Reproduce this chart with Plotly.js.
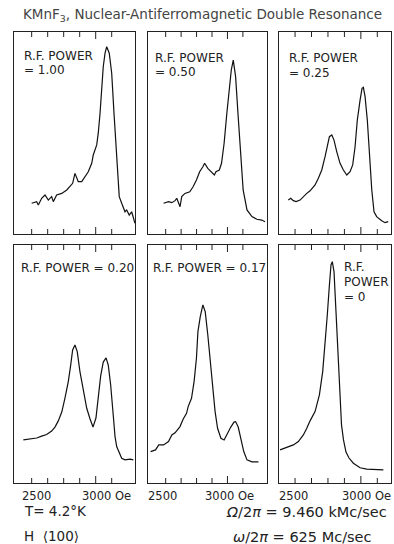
<!DOCTYPE html>
<html>
<head>
<meta charset="utf-8">
<script src="https://cdn.plot.ly/plotly-3.0.1.min.js"></script>
<style>html,body{margin:0;padding:0;background:#fff;}#chart{width:394px;height:544px;}</style>
</head>
<body>
<div id="chart"></div>
<script>
// Field in Oe, signal in arbitrary units (0-100 within each panel)
const rfPower = ["1.00", "0.50", "0.25", "0.20", "0.17", "0"];

const field1 = [2500,2539,2552,2578,2604,2630,2656,2669,2695,2735,2774,2799,2820,2838,2864,2891,2917,2942,2969,2981,3008,3020,3034,3047,3059,3073,3086,3106,3125,3143,3164,3184,3203,3229,3242,3262,3281,3294,3307];
const signal1 = [15.2,16.0,14.4,17.7,19.3,16.8,18.5,16.0,19.3,20.1,21.8,23.4,25.1,30.0,25.9,25.9,28.4,30.8,35.0,39.1,44.1,49.9,59.8,71.3,82.8,89.5,92.7,89.5,79.6,59.8,38.3,18.5,15.2,11.0,11.9,9.4,11.0,8.6,5.3];

const field2 = [2483,2523,2550,2576,2590,2603,2616,2630,2656,2695,2722,2749,2775,2801,2815,2841,2868,2894,2907,2934,2952,2973,2995,3013,3031,3047,3066,3085,3106,3127,3158,3198,3238,3277,3304];
const signal2 = [15.2,16.0,15.5,16.5,17.7,15.2,13.5,18.5,20.1,20.9,23.4,26.7,30.8,33.3,35.0,32.5,30.8,29.2,30.8,31.7,35.0,44.9,59.8,71.3,81.2,86.1,77.9,59.8,38.3,21.8,11.9,8.6,7.3,6.9,6.1];

const field3 = [2449,2467,2487,2508,2538,2563,2589,2614,2652,2677,2703,2728,2745,2761,2779,2796,2817,2842,2867,2893,2918,2938,2956,2973,2994,3009,3019,3032,3049,3064,3083,3100,3120,3158,3184,3208];
const signal3 = [16.8,17.7,16.5,16.0,16.8,18.5,20.1,21.4,24.3,27.6,31.7,38.3,44.1,48.2,49.0,46.5,40.7,35.0,31.7,29.2,30.8,34.2,43.2,56.4,66.3,72.1,72.6,68.0,56.4,40.0,21.8,11.0,8.6,6.6,5.6,6.1];

const field4 = [2435,2487,2539,2578,2617,2656,2682,2708,2735,2760,2786,2805,2820,2838,2856,2877,2903,2930,2956,2979,3002,3020,3039,3059,3081,3098,3117,3137,3151,3164,3184,3203,3229,3268,3294];
const signal4 = [18.1,18.5,18.9,19.7,20.4,21.8,23.5,26.1,29.8,35.7,42.6,49.6,55.9,58.0,55.2,46.8,38.4,31.4,26.9,23.5,27.3,34.9,45.0,50.8,52.6,49.6,41.2,28.6,19.5,15.3,12.5,10.4,9.7,10.0,9.7];

const field5 = [2378,2418,2444,2483,2523,2550,2576,2616,2642,2669,2682,2709,2730,2749,2761,2780,2801,2820,2841,2862,2880,2900,2920,2947,2973,2998,3027,3053,3066,3087,3106,3132,3158,3198,3251];
const signal5 = [13.2,13.9,16.0,16.0,17.4,20.2,21.1,23.7,26.9,29.3,32.1,35.6,42.6,52.4,63.6,69.9,74.8,72.0,62.2,49.6,38.4,30.0,23.0,18.8,18.1,20.9,23.5,25.6,25.8,23.5,19.5,13.2,9.7,8.9,8.9];

const field6 = [2386,2437,2487,2525,2563,2589,2614,2652,2685,2710,2728,2745,2761,2773,2783,2796,2811,2827,2842,2853,2868,2887,2910,2943,2994,3045,3171];
const signal6 = [13.9,14.8,16.0,17.4,20.2,23.0,26.1,30.0,37.0,46.8,58.0,70.6,83.2,91.6,93.0,88.8,72.0,52.5,35.7,24.4,18.1,13.0,10.5,8.3,6.4,5.8,5.5];

const fields = [field1, field2, field3, field4, field5, field6];
const signals = [signal1, signal2, signal3, signal4, signal5, signal6];

const tickFields = [2500, 2625, 2750, 2875, 3000, 3125];
const longTickField = 3000;
const tickLabelA = "2500";
const tickLabelB = "3000 Oe";

// ---- layout geometry (pixels) ----
const W = 394, H = 544;
const cols = [[14,135],[148,267],[279,391]];
const rows = [[32,234],[245,483]];
const ranges = [[2362,3307],[2357,3320],[2378,3229]];
const ink = "#222";
const FONT = "DejaVu Sans";
const TICK_PX = 5, LONG_TICK_PX = 7;

const data = [];
const layout = {
  width: W, height: H,
  margin: {l:0, r:0, t:0, b:0, pad:0},
  paper_bgcolor: "#fff", plot_bgcolor: "#fff",
  showlegend: false,
  annotations: []
};

for (let i = 0; i < 6; i++) {
  const r = Math.floor(i/3), c = i % 3;
  const n = i === 0 ? "" : String(i+1);
  data.push({
    type: "scatter", mode: "lines",
    x: fields[i], y: signals[i],
    xaxis: "x" + n, yaxis: "y" + n,
    line: {color: "#111", width: 1.2},
    hoverinfo: "skip"
  });
  // tick marks on the top and bottom frame edges, placed through the axis scale
  const hPx = rows[r][1] - rows[r][0];
  const tx = [], ty = [];
  tickFields.forEach(function (t) {
    const len = (t === longTickField ? LONG_TICK_PX : TICK_PX) / hPx * 100;
    tx.push(t, t, null, t, t, null);
    ty.push(0, len, null, 100 - len, 100, null);
  });
  data.push({
    type: "scatter", mode: "lines",
    x: tx, y: ty,
    xaxis: "x" + n, yaxis: "y" + n,
    line: {color: ink, width: 1},
    connectgaps: false,
    hoverinfo: "skip"
  });
  layout["xaxis" + n] = {
    domain: [cols[c][0]/W, cols[c][1]/W],
    range: ranges[c],
    anchor: "y" + n,
    showline: true, mirror: true, linecolor: ink, linewidth: 1,
    ticks: "", showticklabels: false, showgrid: false, zeroline: false, fixedrange: true
  };
  layout["yaxis" + n] = {
    domain: [1 - rows[r][1]/H, 1 - rows[r][0]/H],
    range: [0, 100],
    anchor: "x" + n,
    showline: true, mirror: true, linecolor: ink, linewidth: 1,
    ticks: "", showticklabels: false, showgrid: false, zeroline: false, fixedrange: true
  };
}

function txt(text, px, py, size, anchor, extra) {
  layout.annotations.push(Object.assign({
    text: text, xref: "paper", yref: "paper",
    x: px / W, y: 1 - py / H,
    xanchor: anchor || "left", yanchor: "middle",
    showarrow: false,
    font: {family: FONT, size: size, color: ink}
  }, extra || {}));
}

// title
txt("KMnF<sub>3</sub>, Nuclear-Antiferromagnetic Double Resonance", 202, 15, 13.5, "center", {font:{family: FONT, size: 13.5, color: "#444"}});

// panel labels
const LS = 12;
txt("R.F. POWER", 22, 56, LS);
txt("= " + rfPower[0], 22, 70, LS);
txt("R.F. POWER", 153, 58, LS);
txt("= " + rfPower[1], 153, 72, LS);
txt("R.F. POWER", 287, 58, LS);
txt("= " + rfPower[2], 287, 73, LS);
txt("R.F. POWER = " + rfPower[3], 19, 268, LS);
txt("R.F. POWER = " + rfPower[4], 151, 268, LS);
txt("R.F.", 342, 266.5, LS);
txt("POWER", 342, 281.5, LS);
txt("= " + rfPower[5], 342, 296.5, LS);

// bottom tick labels
const labA = [36, 162.5, 293];
const labB = [80, 203, 340];
for (let c = 0; c < 3; c++) {
  txt(tickLabelA, labA[c], 495.5, 11.5, "center");
  txt(tickLabelB, labB[c], 495.5, 11.5, "left");
}

// conditions
txt("T= 4.2°K", 22, 511, 13.5);
txt("H  ⟨100⟩", 22, 535.5, 13.5);
txt("<i>Ω</i>/2<i>π</i> = 9.460 kMc/sec", 224, 512, 14.5);
txt("<i>ω</i>/2<i>π</i> = 625 Mc/sec", 231, 536.5, 14.5);

Plotly.newPlot("chart", data, layout, {staticPlot: true, displayModeBar: false});
</script>
</body>
</html>
